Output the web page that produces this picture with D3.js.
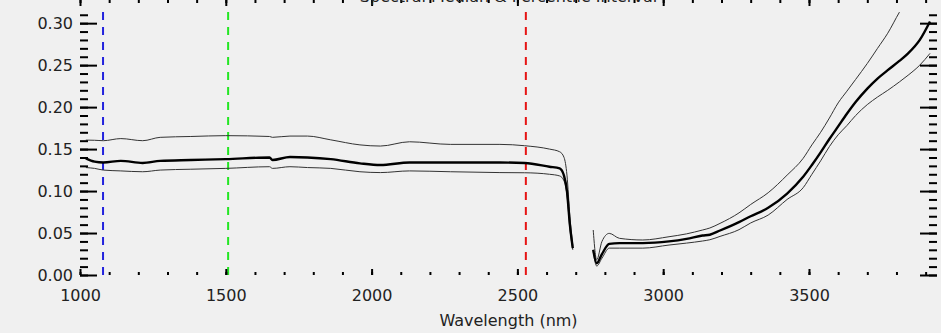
<!DOCTYPE html>
<html>
<head>
<meta charset="utf-8">
<script src="https://cdn.jsdelivr.net/npm/d3@7"></script>
<style>
  body { margin: 0; background: #f0f0f0; }
  svg { display: block; }
  text { font-family: "DejaVu Sans", sans-serif; fill: #222; }
</style>
</head>
<body>
<script>
// spectral median with percentile band

var wavelength = [1020, 1050, 1080, 1140, 1215, 1275, 1380, 1500, 1650, 1660, 1720, 1780, 1860, 1960, 2030, 2130, 2270, 2440, 2525, 2610, 2645, 2660, 2670, 2680, 2690,
                  2725,
                  2760, 2772, 2790, 2815, 2850, 2930, 3020, 3080, 3135, 3160, 3195, 3260, 3300, 3360, 3425, 3480, 3510, 3540, 3570, 3600, 3630, 3660, 3700, 3735, 3770, 3810, 3840, 3880, 3915];

var median = [0.139, 0.135, 0.134, 0.136, 0.1335, 0.136, 0.137, 0.138, 0.140, 0.137, 0.1405, 0.140, 0.138, 0.133, 0.131, 0.134, 0.134, 0.134, 0.1335, 0.129, 0.127, 0.118, 0.100, 0.060, 0.032,
              null,
              0.030, 0.014, 0.025, 0.037, 0.038, 0.038, 0.040, 0.043, 0.047, 0.048, 0.053, 0.063, 0.070, 0.080, 0.097, 0.117, 0.131, 0.146, 0.162, 0.177, 0.192, 0.206, 0.222, 0.234, 0.244, 0.255, 0.264, 0.280, 0.302];

var upper = [0.1607, 0.1605, 0.160, 0.1625, 0.160, 0.164, 0.165, 0.166, 0.165, 0.164, 0.1655, 0.1655, 0.161, 0.155, 0.1536, 0.1587, 0.1556, 0.1556, 0.154, 0.150, 0.1468, 0.140, 0.119, 0.070, 0.035,
             null,
             0.0536, 0.018, 0.040, 0.0496, 0.0437, 0.0417, 0.0456, 0.049, 0.0536, 0.056, 0.0615, 0.074, 0.084, 0.098, 0.119, 0.139, 0.155, 0.170, 0.187, 0.205, 0.219, 0.233, 0.252, 0.270, 0.288, 0.313, 0.330, 0.348, 0.365];

var lower = [0.128, 0.127, 0.125, 0.124, 0.123, 0.125, 0.126, 0.127, 0.129, 0.127, 0.129, 0.128, 0.127, 0.123, 0.122, 0.124, 0.123, 0.122, 0.1218, 0.120, 0.118, 0.112, 0.095, 0.055, 0.030,
             null,
             0.028, 0.0107, 0.020, 0.032, 0.032, 0.032, 0.0357, 0.038, 0.0405, 0.042, 0.046, 0.054, 0.062, 0.0714, 0.090, 0.104, 0.120, 0.136, 0.153, 0.167, 0.178, 0.190, 0.203, 0.212, 0.220, 0.230, 0.238, 0.250, 0.264];

var markers = [1079, 1508, 2529];
var markerColors = ["#2323dd", "#22e622", "#e61414"];

var xTicks = [1000, 1500, 2000, 2500, 3000, 3500];
var yTicks = [0, 0.05, 0.10, 0.15, 0.20, 0.25, 0.30];

var width = 941,
    height = 333,
    margin = {top: 12, right: 4, bottom: 58, left: 80};

var svg = d3.select("body").append("svg")
    .attr("width", width)
    .attr("height", height);

var x = d3.scaleLinear().domain([1000, 3939]).range([margin.left, width - margin.right]);
var y = d3.scaleLinear().domain([0, 0.3133]).range([height - margin.bottom, margin.top]);

svg.append("clipPath").attr("id", "plot")
  .append("rect")
    .attr("x", x(1000)).attr("y", y(0.3133))
    .attr("width", x(3939) - x(1000)).attr("height", y(0) - y(0.3133));

// dashed marker lines
svg.selectAll(".marker")
  .data(markers)
  .enter().append("line")
    .attr("class", "marker")
    .attr("x1", function(d) { return x(d); })
    .attr("x2", function(d) { return x(d); })
    .attr("y1", y(0.3133))
    .attr("y2", y(0))
    .attr("stroke", function(d, i) { return markerColors[i]; })
    .attr("stroke-width", 2)
    .attr("stroke-dasharray", "8,7");

var line = d3.line()
    .defined(function(d) { return d[1] != null; })
    .curve(d3.curveMonotoneX)
    .x(function(d) { return x(d[0]); })
    .y(function(d) { return y(d[1]); });

function series(vals) {
  return wavelength.map(function(w, i) { return [w, vals[i]]; });
}

var g = svg.append("g").attr("clip-path", "url(#plot)");

g.append("path").datum(series(upper))
    .attr("d", line).attr("fill", "none").attr("stroke", "#333").attr("stroke-width", 1);
g.append("path").datum(series(lower))
    .attr("d", line).attr("fill", "none").attr("stroke", "#333").attr("stroke-width", 1);
g.append("path").datum(series(median))
    .attr("d", line).attr("fill", "none").attr("stroke", "#000").attr("stroke-width", 2.4);

// axes, ticks point inward like IDL
var xMinor = d3.range(1000, 3940, 100);
var yMinor = d3.range(0, 0.3133, 0.01);

var bottom = y(0), top = y(0.3133), left = x(1000), right = x(3939);

svg.append("g").attr("transform", "translate(0," + bottom + ")")
    .call(d3.axisBottom(x).tickValues(xMinor).tickSize(-3).tickFormat(""));
svg.append("g").attr("transform", "translate(0," + bottom + ")")
    .call(d3.axisBottom(x).tickValues(xTicks).tickSize(-6).tickPadding(15).tickFormat(d3.format("d")));
svg.append("g").attr("transform", "translate(0," + top + ")")
    .call(d3.axisTop(x).tickValues(xMinor).tickSize(-3).tickFormat(""));
svg.append("g").attr("transform", "translate(0," + top + ")")
    .call(d3.axisTop(x).tickValues(xTicks).tickSize(-6).tickFormat(""));

svg.append("g").attr("transform", "translate(" + left + ",0)")
    .call(d3.axisLeft(y).tickValues(yMinor).tickSize(-8).tickFormat(""));
svg.append("g").attr("transform", "translate(" + left + ",0)")
    .call(d3.axisLeft(y).tickValues(yTicks).tickSize(-17).tickPadding(7).tickFormat(d3.format(".2f")));
svg.append("g").attr("transform", "translate(" + right + ",0)")
    .call(d3.axisRight(y).tickValues(yMinor).tickSize(-8).tickFormat(""));
svg.append("g").attr("transform", "translate(" + right + ",0)")
    .call(d3.axisRight(y).tickValues(yTicks).tickSize(-17).tickFormat(""));

svg.selectAll(".domain").remove();
svg.selectAll(".tick line").attr("stroke", "#000").attr("stroke-width", 2);
svg.selectAll(".tick text").style("font-size", "16px").attr("fill", "#222");

svg.append("rect")
    .attr("x", left).attr("y", top)
    .attr("width", right - left).attr("height", bottom - top)
    .attr("fill", "none").attr("stroke", "#000").attr("stroke-width", 2);

// title sits mostly above the window, as in the original
svg.append("text")
    .attr("x", (left + right) / 2).attr("y", 2)
    .attr("text-anchor", "middle").style("font-size", "16px")
    .text("Spectral Median & Percentile Interval");

svg.append("text")
    .attr("x", (left + right) / 2).attr("y", 326)
    .attr("text-anchor", "middle").style("font-size", "16px")
    .text("Wavelength (nm)");

svg.append("text")
    .attr("transform", "translate(25," + ((top + bottom) / 2) + ") rotate(-90)")
    .attr("text-anchor", "middle").style("font-size", "16px")
    .text("I/F");
</script>
</body>
</html>
